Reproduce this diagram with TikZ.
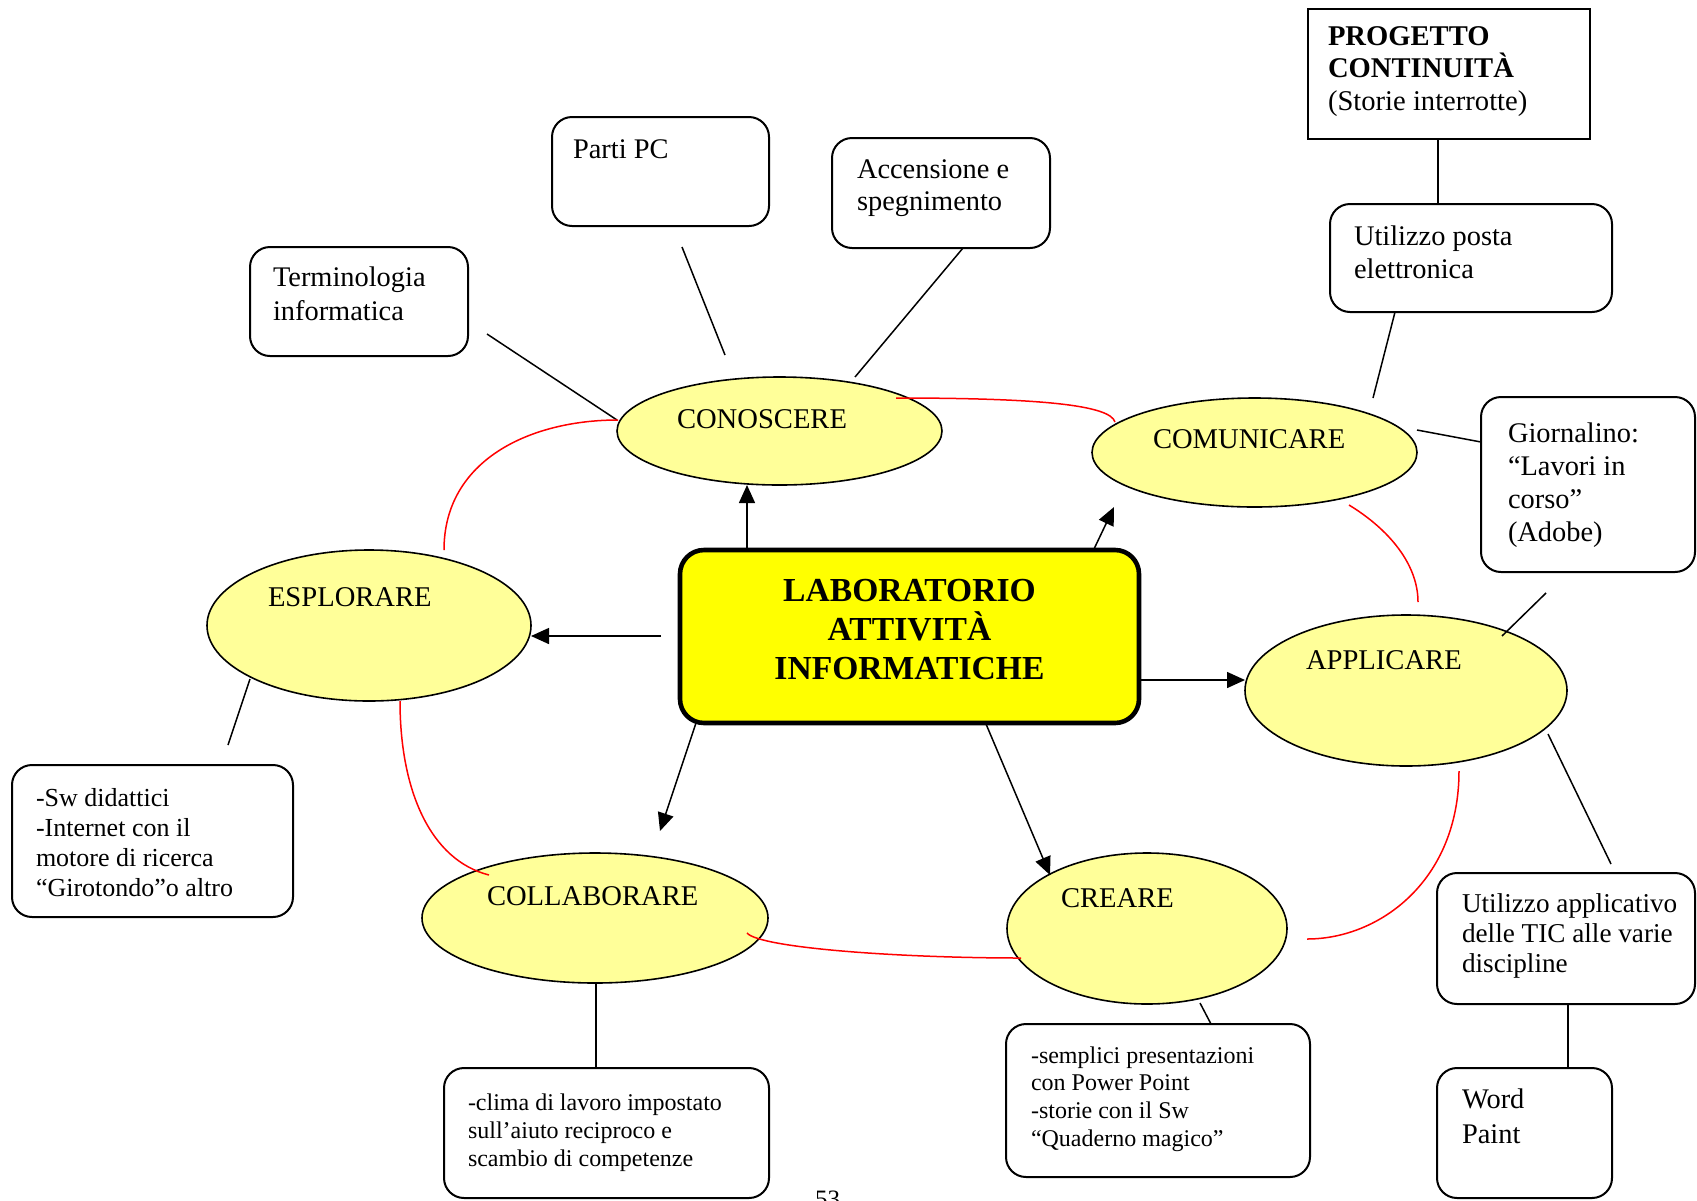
\documentclass[tikz,border=0pt]{standalone}
\usepackage{fontspec}
\setmainfont{Liberation Serif}
\usetikzlibrary{arrows.meta,shapes.geometric}
\definecolor{paleyellow}{HTML}{FFFF99}
\definecolor{coreyellow}{HTML}{FFFF00}
\definecolor{linkred}{HTML}{FF0000}
% multi-line text whose reference point is the baseline of its first line
\newcommand{\leftlines}[1]{\parbox[t]{200pt}{\raggedright #1}}
\newcommand{\centerlines}[1]{\parbox[t]{260pt}{\centering #1}}

\begin{document}
\begin{tikzpicture}[x=0.5pt,y=-0.5pt,
  box/.style={draw,line width=1pt,rounded corners=10pt,inner sep=0pt,outer sep=0pt,fill=white},
  sqbox/.style={draw,line width=1pt,inner sep=0pt,outer sep=0pt,fill=white},
  core/.style={draw,line width=2.3pt,rounded corners=12pt,fill=coreyellow,inner sep=0pt,outer sep=0pt},
  bubble/.style={ellipse,draw,line width=0.8pt,fill=paleyellow,inner sep=0pt,outer sep=0pt},
  lbl/.style={inner sep=0pt,outer sep=0pt,anchor=base west},
  txt/.style={lbl,font=\fontsize{14.2pt}{16.5pt}\selectfont},
  link/.style={line width=0.75pt},
  arr/.style={line width=0.75pt,-{Triangle[length=9pt,width=8pt]}},
  ring/.style={line width=0.75pt,draw=linkred},
]
\useasboundingbox (0,0) rectangle (1697,1200);

% ---- activity bubbles ----
\node[bubble,minimum width=162.5pt,minimum height=54pt]   (conoscere)   at (779.5,431) {};
\node[bubble,minimum width=162.5pt,minimum height=54.5pt] (comunicare)  at (1254.5,452.5) {};
\node[bubble,minimum width=162pt,minimum height=75.5pt]   (esplorare)   at (369,625.5) {};
\node[bubble,minimum width=161pt,minimum height=75.5pt]   (applicare)   at (1406,690.5) {};
\node[bubble,minimum width=173pt,minimum height=65pt]     (collaborare) at (595,918) {};
\node[bubble,minimum width=140pt,minimum height=75.5pt]   (creare)      at (1147,928.5) {};

\node[lbl,font=\fontsize{14.3pt}{16pt}\selectfont] (tconoscere)   at (677,428)  {CONOSCERE};
\node[lbl,font=\fontsize{14.3pt}{16pt}\selectfont] (tcomunicare)  at (1153,448) {COMUNICARE};
\node[lbl,font=\fontsize{14.3pt}{16pt}\selectfont] (tesplorare)   at (268,606)  {ESPLORARE};
\node[lbl,font=\fontsize{14.3pt}{16pt}\selectfont] (tapplicare)   at (1306,669) {APPLICARE};
\node[lbl,font=\fontsize{14.3pt}{16pt}\selectfont] (tcollaborare) at (487,905)  {COLLABORARE};
\node[lbl,font=\fontsize{14.3pt}{16pt}\selectfont] (tcreare)      at (1061,907) {CREARE};

% ---- central box ----
\node[core,minimum width=229.5pt,minimum height=86.5pt] (central) at (909.5,636.5) {};
\node[inner sep=0pt,anchor=base,font=\fontsize{16.8pt}{19.5pt}\selectfont\bfseries] (tcentral) at (909.5,601)
  {\centerlines{LABORATORIO\\ATTIVITÀ\\INFORMATICHE}};

% ---- description boxes ----
\node[sqbox,minimum width=141pt,minimum height=65pt]   (prog)   at (1449,74) {};
\node[box,minimum width=141pt,minimum height=54pt]     (posta)  at (1471,258) {};
\node[box,minimum width=109pt,minimum height=54.5pt]   (term)   at (359,301.5) {};
\node[box,minimum width=108.5pt,minimum height=54.5pt] (parti)  at (660.5,171.5) {};
\node[box,minimum width=109pt,minimum height=55pt]     (accens) at (941,193) {};
\node[box,minimum width=107pt,minimum height=87.5pt]   (giorn)  at (1588,484.5) {};
\node[box,minimum width=140.5pt,minimum height=76pt]   (sw)     at (152.5,841) {};
\node[box,minimum width=162.5pt,minimum height=65pt]   (clima)  at (606.5,1133) {};
\node[box,minimum width=152pt,minimum height=76.5pt]   (sempl)  at (1158,1100.5) {};
\node[box,minimum width=129pt,minimum height=65.5pt]   (tic)    at (1566,938.5) {};
\node[box,minimum width=87.5pt,minimum height=65pt]    (word)   at (1524.5,1133) {};

\node[lbl,font=\fontsize{14.3pt}{16.25pt}\selectfont] (tprog) at (1328,45)
  {\leftlines{\textbf{PROGETTO}\\\textbf{CONTINUITÀ}\\(Storie interrotte)}};
\node[txt] (tposta)  at (1354,245) {\leftlines{Utilizzo posta\\elettronica}};
\node[lbl,font=\fontsize{14.2pt}{17pt}\selectfont] (tterm) at (273,286) {\leftlines{Terminologia\\informatica}};
\node[txt] (tparti)  at (573,158)  {Parti PC};
\node[lbl,font=\fontsize{14.2pt}{16pt}\selectfont] (taccens) at (857,178) {\leftlines{Accensione e\\spegnimento}};
\node[txt] (tgiorn)  at (1508,442) {\leftlines{Giornalino:\\“Lavori in\\corso”\\(Adobe)}};
\node[lbl,font=\fontsize{13pt}{15pt}\selectfont] (tsw) at (36,806)
  {\leftlines{-Sw didattici\\-Internet con il\\motore di ricerca\\“Girotondo”o altro}};
\node[lbl,font=\fontsize{12pt}{14pt}\selectfont] (tclima) at (468,1110)
  {\leftlines{-clima di lavoro impostato\\sull’aiuto reciproco e\\scambio di competenze}};
\node[lbl,font=\fontsize{12pt}{13.85pt}\selectfont] (tsempl) at (1031,1063)
  {\leftlines{-semplici presentazioni\\con Power Point\\-storie con il Sw\\“Quaderno magico”}};
\node[lbl,font=\fontsize{13.6pt}{15pt}\selectfont] (ttic) at (1462,912)
  {\leftlines{Utilizzo applicativo\\delle TIC alle varie\\discipline}};
\node[lbl,font=\fontsize{14.2pt}{17.5pt}\selectfont] (tword) at (1462,1108) {\leftlines{Word\\Paint}};

% page number
\node[lbl,font=\fontsize{12.5pt}{14pt}\selectfont] (pagenum) at (815,1207) {53};

% ---- connector end points ----
\coordinate (termA) at (487,334);    \coordinate (termB) at (617,420);
\coordinate (partiA) at (682,247);   \coordinate (partiB) at (725,355);
\coordinate (accA) at (963,248);     \coordinate (accB) at (855,377);
\coordinate (progA) at (1438,139);   \coordinate (progB) at (1438,204);
\coordinate (postaA) at (1395,312);  \coordinate (postaB) at (1373,398);
\coordinate (giornA) at (1481,442);  \coordinate (giornB) at (1417,430);
\coordinate (giornC) at (1546,593);  \coordinate (giornD) at (1502,636);
\coordinate (ticA) at (1548,734);    \coordinate (ticB) at (1611,864);
\coordinate (wordA) at (1568,1004);  \coordinate (wordB) at (1568,1068);
\coordinate (swA) at (250,679);      \coordinate (swB) at (228,745);
\coordinate (climaA) at (596,983);   \coordinate (climaB) at (596,1068);
\coordinate (semplA) at (1200,1003); \coordinate (semplB) at (1211,1024);

\draw[link] (termA) -- (termB);
\draw[link] (partiA) -- (partiB);
\draw[link] (accA) -- (accB);
\draw[link] (progA) -- (progB);
\draw[link] (postaA) -- (postaB);
\draw[link] (giornA) -- (giornB);
\draw[link] (giornC) -- (giornD);
\draw[link] (ticA) -- (ticB);
\draw[link] (wordA) -- (wordB);
\draw[link] (swA) -- (swB);
\draw[link] (climaA) -- (climaB);
\draw[link] (semplA) -- (semplB);

% ---- arrows from the central box ----
\coordinate (upA) at (747,550);     \coordinate (upB) at (747,485);
\coordinate (comA) at (1094,549);   \coordinate (comB) at (1114,507);
\coordinate (espA) at (661,636);    \coordinate (espB) at (531,636);
\coordinate (appA) at (1139,680);   \coordinate (appB) at (1245,680);
\coordinate (colA) at (696,723);    \coordinate (colB) at (660,831);
\coordinate (creA) at (986,724);    \coordinate (creB) at (1050,875);

\draw[arr] (upA) -- (upB);
\draw[arr] (comA) -- (comB);
\draw[arr] (espA) -- (espB);
\draw[arr] (appA) -- (appB);
\draw[arr] (colA) -- (colB);
\draw[arr] (creA) -- (creB);

% ---- red ring joining the activities ----
\coordinate (r1a) at (896,398);   \coordinate (r1b) at (1115,422);
\coordinate (r2a) at (1349,505);  \coordinate (r2b) at (1418,602);
\coordinate (r3a) at (1459,771);  \coordinate (r3b) at (1307,939);
\coordinate (r4a) at (1021,958);  \coordinate (r4b) at (747,933);
\coordinate (r5a) at (489,875);   \coordinate (r5b) at (400,701);
\coordinate (r6a) at (444,550);   \coordinate (r6b) at (618,420);

\draw[ring] (r1a) .. controls (1040,398) and (1110,405) .. (r1b);
\draw[ring] (r2a) .. controls (1390,530) and (1418,565) .. (r2b);
\draw[ring] (r3a) .. controls (1459,880) and (1380,939) .. (r3b);
\draw[ring] (r4a) .. controls (900,958) and (760,948) .. (r4b);
\draw[ring] (r5a) .. controls (430,860) and (400,790) .. (r5b);
\draw[ring] (r6a) .. controls (444,460) and (530,420) .. (r6b);
\end{tikzpicture}
\end{document}
